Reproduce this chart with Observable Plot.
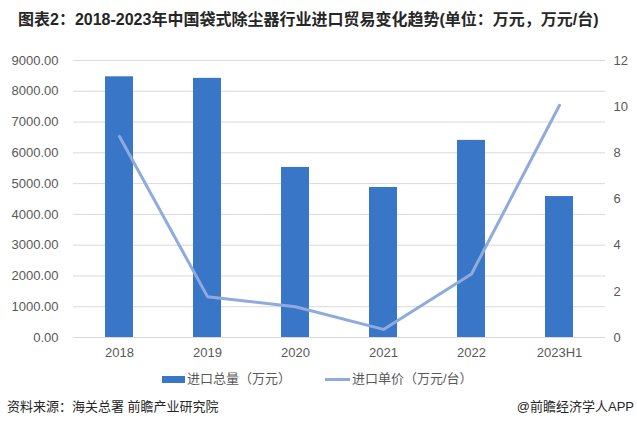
<!DOCTYPE html>
<html><head><meta charset="utf-8">
<script src="https://cdn.jsdelivr.net/npm/d3@7"></script>
<script src="https://cdn.jsdelivr.net/npm/@observablehq/plot@0.6"></script>
<style>
body{margin:0;background:#fff;width:637px;height:428px;overflow:hidden;position:relative;font-family:"Liberation Sans",Arial,"Noto Sans CJK SC",sans-serif;}
#title{position:absolute;left:18px;top:10px;font-weight:bold;font-size:16px;line-height:20px;font-family:"Liberation Sans",Arial,"Noto Sans CJK SC",sans-serif;color:#262626;white-space:nowrap;}
#chart{position:absolute;left:0;top:45px;}
.lg{position:absolute;font-size:13px;line-height:16px;color:#595959;white-space:nowrap;font-family:"Liberation Sans","Noto Sans CJK SC",sans-serif;}
.sw{position:absolute;}
.ft{position:absolute;font-size:13px;line-height:16px;color:#262626;white-space:nowrap;font-family:"Liberation Sans","Noto Sans CJK SC",sans-serif;}
</style>
</head><body>
<div id="title">图表2：2018-2023年中国袋式除尘器行业进口贸易变化趋势(单位：万元，万元/台)</div>
<div id="chart"></div>
<div class="sw" style="left:162px;top:376px;width:23px;height:7px;background:#3a76c7"></div>
<div class="lg" style="left:187px;top:371px">进口总量（万元）</div>
<div class="sw" style="left:325px;top:378px;width:25px;height:3px;background:#8faadc"></div>
<div class="lg" style="left:352px;top:371px">进口单价（万元/台）</div>
<div class="ft" style="left:7px;top:399px">资料来源：海关总署 前瞻产业研究院</div>
<div class="ft" style="right:3px;top:399px">@前瞻经济学人APP</div>
<script>
const categories = ["2018","2019","2020","2021","2022","2023H1"];
const importTotal = [8470, 8420, 5525, 4875, 6405, 4580];   // 进口总量（万元）
const unitPrice = [8.71, 1.77, 1.33, 0.35, 2.75, 10.06];    // 进口单价（万元/台）
const leftTicks = [0,1000,2000,3000,4000,5000,6000,7000,8000,9000];
const rightTicks = [0,2,4,6,8,10,12];
const ratio = 9000 / 12;

const data = categories.map((c,i)=>({cat:c,total:importTotal[i],price:unitPrice[i]}));

const chart = Plot.plot({
  width:637, height:325,
  marginTop:15, marginBottom:33, marginLeft:73, marginRight:32,
  style:{fontFamily:"Liberation Sans, Arial, sans-serif", fontSize:"13px", color:"#595959", background:"transparent"},
  x:{domain:categories, paddingInner:0.684, paddingOuter:0.342, label:null},
  y:{domain:[0,9000], label:null},
  marks:[
    Plot.ruleY(leftTicks,{stroke:"#d9d9d9", strokeWidth:1}),
    Plot.barY(data,{x:"cat", y:"total", fill:"#3a76c7"}),
    Plot.lineY(data,{x:"cat", y:d=>d.price*ratio, stroke:"#8faadc", strokeWidth:3}),
    Plot.axisX({tickSize:0, tickPadding:10, label:null, fill:"#595959"}),
    Plot.axisY({ticks:leftTicks, anchor:"left", tickSize:0, tickPadding:15, tickFormat:d3.format(".2f"), label:null, fill:"#595959"}),
    Plot.axisY({ticks:rightTicks.map(v=>v*ratio), anchor:"right", tickSize:0, tickPadding:8, tickFormat:d=>String(Math.round(d/ratio)), label:null, fill:"#595959"})
  ]
});
document.getElementById("chart").appendChild(chart);
</script>
</body></html>
